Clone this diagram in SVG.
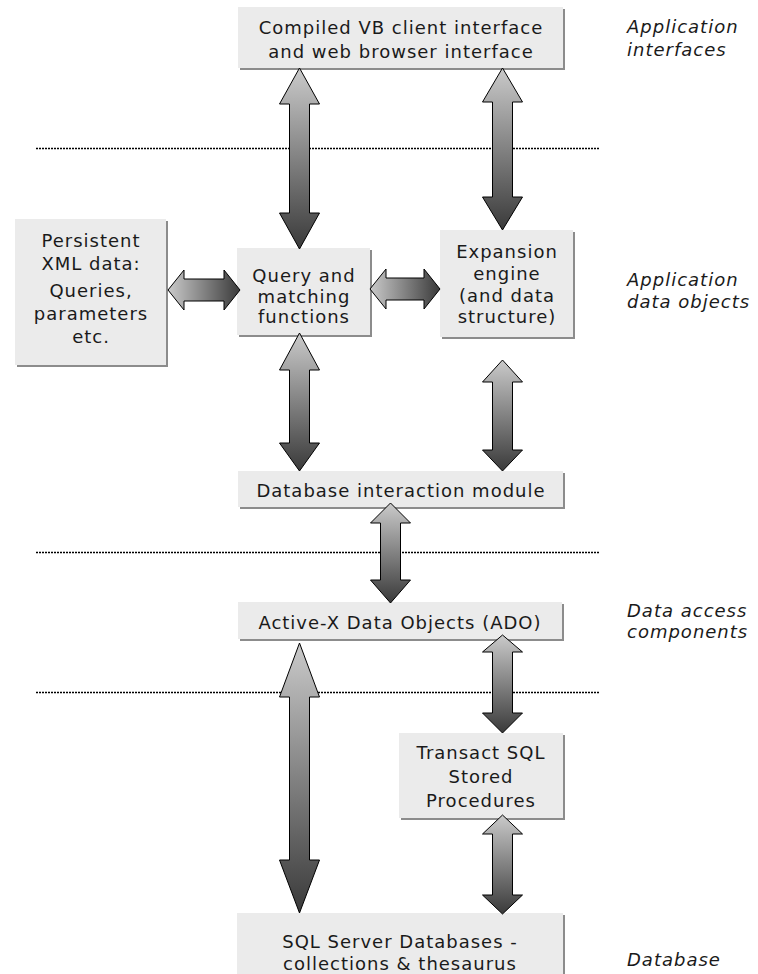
<svg xmlns="http://www.w3.org/2000/svg" width="758" height="974" viewBox="0 0 758 974">
<style>
.shadow{fill:#8c8c8c}
.box{fill:#ebebeb}
.t{font-family:"DejaVu Sans",Verdana,sans-serif;font-size:18px;fill:#1a1a1a;letter-spacing:1px;text-anchor:middle}
.lbl{font-family:"DejaVu Sans",Verdana,sans-serif;font-size:18px;font-style:italic;fill:#1a1a1a;letter-spacing:1px}
.dot{stroke:#000;stroke-width:1.5;stroke-dasharray:2 1;fill:none}
.av{fill:url(#gv);stroke:#000;stroke-width:1}
.ah{fill:url(#gh);stroke:#000;stroke-width:1}
</style>
<defs>
<linearGradient id="gv" x1="0" y1="0" x2="0" y2="1"><stop offset="0" stop-color="#cacaca"/><stop offset="1" stop-color="#3a3a3a"/></linearGradient>
<linearGradient id="gh" x1="0" y1="0" x2="1" y2="0"><stop offset="0" stop-color="#cacaca"/><stop offset="1" stop-color="#3a3a3a"/></linearGradient>
</defs>
<rect width="758" height="974" fill="#fff"/>
<g id="separators">
<line class="dot" x1="36" y1="148.5" x2="600" y2="148.5"/>
<line class="dot" x1="36" y1="552.5" x2="600" y2="552.5"/>
<line class="dot" x1="36" y1="692.5" x2="600" y2="692.5"/>
</g>
<g id="labels">
<text class="lbl" x="627" y="33">Application</text>
<text class="lbl" x="627" y="56">interfaces</text>
<text class="lbl" x="627" y="286">Application</text>
<text class="lbl" x="627" y="308">data objects</text>
<text class="lbl" x="627" y="617">Data access</text>
<text class="lbl" x="627" y="638">components</text>
<text class="lbl" x="627" y="966">Database</text>
</g>
<g id="n-client">
<rect class="shadow" x="240" y="9" width="325" height="61"/>
<rect class="box" x="238" y="7" width="325" height="61"/>
<text class="t" x="401" y="34">Compiled VB client interface</text>
<text class="t" x="401" y="58">and web browser interface</text>
</g>
<g id="n-persistent">
<rect class="shadow" x="17" y="221" width="151" height="146"/>
<rect class="box" x="15" y="219" width="151" height="146"/>
<text class="t" x="91" y="247">Persistent</text>
<text class="t" x="91" y="270">XML data:</text>
<text class="t" x="91" y="297">Queries,</text>
<text class="t" x="91" y="320">parameters</text>
<text class="t" x="91" y="343">etc.</text>
</g>
<g id="n-query">
<rect class="shadow" x="239" y="250" width="133" height="87"/>
<rect class="box" x="237" y="248" width="133" height="87"/>
<text class="t" x="304" y="282">Query and</text>
<text class="t" x="304" y="303">matching</text>
<text class="t" x="304" y="323">functions</text>
</g>
<g id="n-expansion">
<rect class="shadow" x="442" y="232" width="133" height="107"/>
<rect class="box" x="440" y="230" width="133" height="107"/>
<text class="t" x="507" y="258">Expansion</text>
<text class="t" x="507" y="280">engine</text>
<text class="t" x="507" y="302">(and data</text>
<text class="t" x="507" y="323">structure)</text>
</g>
<g id="n-dbmodule">
<rect class="shadow" x="240" y="473" width="325" height="36"/>
<rect class="box" x="238" y="471" width="325" height="36"/>
<text class="t" x="401" y="497">Database interaction module</text>
</g>
<g id="n-ado">
<rect class="shadow" x="240" y="604" width="324" height="37"/>
<rect class="box" x="238" y="602" width="324" height="37"/>
<text class="t" x="400" y="629">Active-X Data Objects (ADO)</text>
</g>
<g id="n-transact">
<rect class="shadow" x="401" y="735" width="164" height="85"/>
<rect class="box" x="399" y="733" width="164" height="85"/>
<text class="t" x="481" y="759">Transact SQL</text>
<text class="t" x="481" y="783">Stored</text>
<text class="t" x="481" y="807">Procedures</text>
</g>
<g id="n-sql">
<rect class="shadow" x="239" y="915" width="326" height="61"/>
<rect class="box" x="237" y="913" width="326" height="61"/>
<text class="t" x="400" y="948">SQL Server Databases -</text>
<text class="t" x="400" y="970">collections &amp; thesaurus</text>
</g>
<g id="connectors">
<path class="av" d="M299.5,68 L319.5,104 L309.5,104 L309.5,213 L319.5,213 L299.5,249 L279.5,213 L289.5,213 L289.5,104 L279.5,104 Z"/>
<path class="av" d="M502.5,68 L522.5,102 L512.5,102 L512.5,197 L522.5,197 L502.5,230 L482.5,197 L492.5,197 L492.5,102 L482.5,102 Z"/>
<path class="ah" d="M168,290 L184,270 L184,279 L224,279 L224,270 L240,290 L224,310 L224,301 L184,301 L184,310 Z"/>
<path class="ah" d="M370,289 L386,269 L386,278 L424,278 L424,269 L440,289 L424,309 L424,300 L386,300 L386,309 Z"/>
<path class="av" d="M299.5,333 L319.5,370 L309.5,370 L309.5,443 L319.5,443 L299.5,471 L279.5,443 L289.5,443 L289.5,370 L279.5,370 Z"/>
<path class="av" d="M502.5,360 L522.5,382 L512.5,382 L512.5,450 L522.5,450 L502.5,471 L482.5,450 L492.5,450 L492.5,382 L482.5,382 Z"/>
<path class="av" d="M390.5,503 L410.5,523 L400.5,523 L400.5,580 L410.5,580 L390.5,603 L370.5,580 L380.5,580 L380.5,523 L370.5,523 Z"/>
<path class="av" d="M299.5,643 L319.5,697 L309.5,697 L309.5,860 L319.5,860 L299.5,913 L279.5,860 L289.5,860 L289.5,697 L279.5,697 Z"/>
<path class="av" d="M502.5,635 L522.5,652 L512.5,652 L512.5,713 L522.5,713 L502.5,733 L482.5,713 L492.5,713 L492.5,652 L482.5,652 Z"/>
<path class="av" d="M502.5,815 L522.5,834 L512.5,834 L512.5,895 L522.5,895 L502.5,914 L482.5,895 L492.5,895 L492.5,834 L482.5,834 Z"/>
</g>
</svg>
